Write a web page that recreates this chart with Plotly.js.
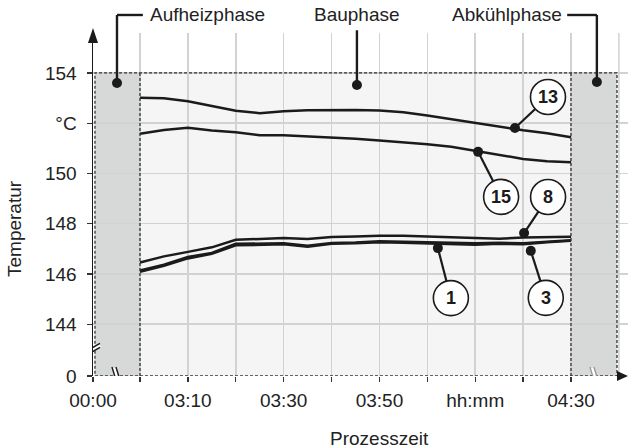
<!DOCTYPE html>
<html>
<head>
<meta charset="utf-8">
<script src="https://cdn.plot.ly/plotly-3.0.1.min.js"></script>
<style>html,body{margin:0;padding:0;background:#fff;}#chart{width:628px;height:448px;}</style>
</head>
<body>
<div id="chart"></div>
<script>
// ---- data (minutes since 00:00; temperatures in °C) ----
const times = ["03:00","03:05","03:10","03:15","03:20","03:25","03:30","03:35","03:40","03:45","03:50","03:55","04:00","04:05","04:10","04:15","04:20","04:25","04:30"];
const series13 = [153.01,152.99,152.87,152.69,152.50,152.40,152.48,152.52,152.53,152.53,152.51,152.44,152.31,152.16,151.99,151.87,151.72,151.60,151.44];
const series15 = [151.58,151.73,151.82,151.71,151.64,151.52,151.52,151.48,151.43,151.38,151.31,151.25,151.16,151.06,150.90,150.73,150.58,150.49,150.45];
const series8  = [146.46,146.70,146.88,147.06,147.36,147.40,147.43,147.39,147.47,147.49,147.52,147.52,147.49,147.46,147.42,147.40,147.45,147.47,147.48];
const series1  = [146.14,146.37,146.68,146.84,147.20,147.20,147.22,147.12,147.23,147.25,147.30,147.28,147.27,147.24,147.22,147.24,147.22,147.28,147.34];
const series3  = [146.09,146.33,146.62,146.80,147.14,147.16,147.18,147.08,147.20,147.22,147.26,147.24,147.22,147.18,147.16,147.20,147.18,147.26,147.32];

const labelNames = ["13","15","8","1","3"];
const labelTimes = [258.3, 250.6, 260.2, 242.2, 261.6];
const labelTemps = [151.81, 150.86, 147.63, 147.03, 146.92];

const phaseNames = ["Aufheizphase","Bauphase","Abkühlphase"];
const phaseTimes = [175.2, 225.3, 275.4];
const phaseTemps = [153.60, 153.52, 153.64];

const xTickVals = [170.19,180,190,200,210,220,230,240,250,260,270];
const xTickText = ["00:00","","03:10","","03:30","","03:50","","hh:mm","","04:30"];
const yTickVals = [141.94,144,146,148,150,152,154];
const yTickText = ["0","144","146","148","150","°C","154"];

// ---- styling / layout ----
const toMin = s => { const p = s.split(":"); return (+p[0])*60 + (+p[1]); };
const x = times.map(toMin);
const INK = "#1b1b1b";
const FONT = "Liberation Sans, Arial, sans-serif";
const xRange = [170.19, 281.90];
const yRange = [141.94, 155.59];

const lineTrace = (y, name) => ({x: x, y: y, name: name, type: "scatter", mode: "lines",
  line: {color: INK, width: 2.5}, hoverinfo: "skip", showlegend: false});

const traces = [
  lineTrace(series13, "13"), lineTrace(series15, "15"), lineTrace(series8, "8"),
  lineTrace(series1, "1"), lineTrace(series3, "3"),
  {x: labelTimes, y: labelTemps, type: "scatter", mode: "markers", marker: {color: INK, size: 10}, showlegend: false, hoverinfo: "skip"},
  {x: phaseTimes, y: phaseTemps, type: "scatter", mode: "markers", marker: {color: INK, size: 10}, showlegend: false, hoverinfo: "skip"}
];

const shapes = [];
const annotations = [];
const yTop = 154, yBot = yRange[0];
const xL = 170.6, xR = 279.6;
// backgrounds (below grid)
shapes.push({type: "rect", layer: "below", xref: "x", yref: "y", x0: xL, x1: xR, y0: yBot, y1: yTop, fillcolor: "#f5f5f5", line: {width: 0}});
shapes.push({type: "rect", layer: "below", xref: "x", yref: "y", x0: xL, x1: 180, y0: yBot, y1: yTop, fillcolor: "#d7d8d8", line: {width: 0}});
shapes.push({type: "rect", layer: "below", xref: "x", yref: "y", x0: 270, x1: xR, y0: yBot, y1: yTop, fillcolor: "#d7d8d8", line: {width: 0}});
// extra vertical grid at 04:40
shapes.push({type: "line", layer: "below", xref: "x", yref: "paper", x0: 280, x1: 280, y0: 0, y1: 1, line: {color: "#d2d2d2", width: 1.5}});
// dashed borders
const dash = {color: "#333", width: 1.3, dash: "3px,2px"};
shapes.push({type: "rect", layer: "above", xref: "x", yref: "y", x0: xL, x1: xR, y0: yBot, y1: yTop, line: dash});
shapes.push({type: "line", layer: "above", xref: "x", yref: "y", x0: 180, x1: 180, y0: yBot, y1: yTop, line: dash});
shapes.push({type: "line", layer: "above", xref: "x", yref: "y", x0: 270, x1: 270, y0: yBot, y1: yTop, line: dash});
// axis arrows (paper coords)
shapes.push({type: "path", xref: "paper", yref: "paper", path: "M 0 1.0146 L -0.0094 0.9708 L 0.0094 0.9708 Z", fillcolor: INK, line: {width: 0}});
shapes.push({type: "path", xref: "paper", yref: "paper", path: "M 1 0 L 0.9794 0.0146 L 0.9794 -0.0146 Z", fillcolor: INK, line: {width: 0}});

// axis break marks
function breakMark(xa, ya, segs, color) {
  segs.forEach(s => shapes.push({type: "line", layer: "above", xref: "x", yref: "y",
    xsizemode: "pixel", ysizemode: "pixel", xanchor: xa, yanchor: ya,
    x0: s[0], y0: s[1], x1: s[2], y1: s[3], line: {color: s[4] || color, width: s[5] || 1.4}}));
}
breakMark(170.19, 143.0, [[-7,-4,7,4,"#ffffff",3], [-7,-6,7,2], [-7,-2,7,6]], INK);
breakMark(175.4, yBot, [[-4,8,1,-8,"#ffffff",3], [-6,9,-1,-7], [-2,9,3,-7]], INK);
breakMark(275.2, yBot, [[-4,8,1,-8,"#ffffff",3], [-6,9,-1,-7], [-2,9,3,-7]], "#9a9a9a");

// numbered callouts
const calloutOffsets = [[33,-31],[23,45],[24,-36],[13,50],[15,47]];
const R = 17.5;
labelNames.forEach((nm, i) => {
  const dx = calloutOffsets[i][0], dy = -calloutOffsets[i][1];
  shapes.push({type: "line", layer: "above", xref: "x", yref: "y", xsizemode: "pixel", ysizemode: "pixel",
    xanchor: labelTimes[i], yanchor: labelTemps[i], x0: 0, y0: 0, x1: dx, y1: dy, line: {color: INK, width: 2.2}});
  shapes.push({type: "circle", layer: "above", xref: "x", yref: "y", xsizemode: "pixel", ysizemode: "pixel",
    xanchor: labelTimes[i], yanchor: labelTemps[i], x0: dx - R, x1: dx + R, y0: dy - R, y1: dy + R,
    fillcolor: "#ffffff", line: {color: INK, width: 1.6}});
  annotations.push({x: labelTimes[i], y: labelTemps[i], xref: "x", yref: "y", text: "<b>" + nm + "</b>",
    showarrow: false, xshift: dx, yshift: dy, xanchor: "center", yanchor: "middle", font: {family: FONT, size: 18, color: INK}});
});

// phase callouts
const textY = 1.0525;
const py = t => (t - yRange[0]) / (yRange[1] - yRange[0]);
shapes.push({type: "line", xref: "x", yref: "paper", x0: phaseTimes[0], x1: phaseTimes[0], y0: py(phaseTemps[0]), y1: textY, line: {color: INK, width: 2.4}});
shapes.push({type: "line", xref: "x", yref: "paper", x0: phaseTimes[0], x1: 180.6, y0: textY, y1: textY, line: {color: INK, width: 2.4}});
shapes.push({type: "line", xref: "x", yref: "paper", x0: phaseTimes[1], x1: phaseTimes[1], y0: py(phaseTemps[1]), y1: 1.008, line: {color: INK, width: 2.4}});
shapes.push({type: "line", xref: "x", yref: "paper", x0: phaseTimes[2], x1: phaseTimes[2], y0: py(phaseTemps[2]), y1: textY, line: {color: INK, width: 2.4}});
shapes.push({type: "line", xref: "x", yref: "paper", x0: 269.2, x1: phaseTimes[2], y0: textY, y1: textY, line: {color: INK, width: 2.4}});
annotations.push({x: 181.7, y: textY, xref: "x", yref: "paper", text: phaseNames[0], showarrow: false, xanchor: "left", yanchor: "middle", font: {family: FONT, size: 19, color: "#222"}});
annotations.push({x: phaseTimes[1], y: textY, xref: "x", yref: "paper", text: phaseNames[1], showarrow: false, xanchor: "center", yanchor: "middle", font: {family: FONT, size: 19, color: "#222"}});
annotations.push({x: 268.6, y: textY, xref: "x", yref: "paper", text: phaseNames[2], showarrow: false, xanchor: "right", yanchor: "middle", font: {family: FONT, size: 19, color: "#222"}});

// axis titles
annotations.push({x: -0.1458, y: 0.4315, xref: "paper", yref: "paper", text: "Temperatur", textangle: -90, showarrow: false, xanchor: "center", yanchor: "middle", font: {family: FONT, size: 19, color: "#222"}});
annotations.push({x: 0.5364, y: -0.1808, xref: "paper", yref: "paper", text: "Prozesszeit", showarrow: false, xanchor: "center", yanchor: "middle", font: {family: FONT, size: 19, color: "#222"}});

const layout = {
  width: 628, height: 448,
  margin: {l: 93, r: 0, t: 33, b: 72, pad: 0},
  paper_bgcolor: "#ffffff", plot_bgcolor: "#ffffff",
  font: {family: FONT, size: 19, color: "#222"},
  showlegend: false,
  xaxis: {range: xRange, tickmode: "array", tickvals: xTickVals, ticktext: xTickText,
    ticks: "outside", ticklen: 5, tickwidth: 1.3, tickcolor: "#333", ticklabelstandoff: 2,
    showgrid: true, gridcolor: "#d2d2d2", gridwidth: 1.5, zeroline: false, showline: false,
    tickfont: {family: FONT, size: 19, color: "#222"}, fixedrange: true},
  yaxis: {range: yRange, tickmode: "array", tickvals: yTickVals, ticktext: yTickText,
    ticks: "outside", ticklen: 5, tickwidth: 1.3, tickcolor: "#333", ticklabelstandoff: 6,
    showgrid: true, gridcolor: "#d2d2d2", gridwidth: 1.5, zeroline: false,
    showline: true, linecolor: INK, linewidth: 1.5,
    tickfont: {family: FONT, size: 19, color: "#222"}, fixedrange: true},
  shapes: shapes, annotations: annotations
};

Plotly.newPlot("chart", traces, layout, {displayModeBar: false, staticPlot: true});
</script>
</body>
</html>
